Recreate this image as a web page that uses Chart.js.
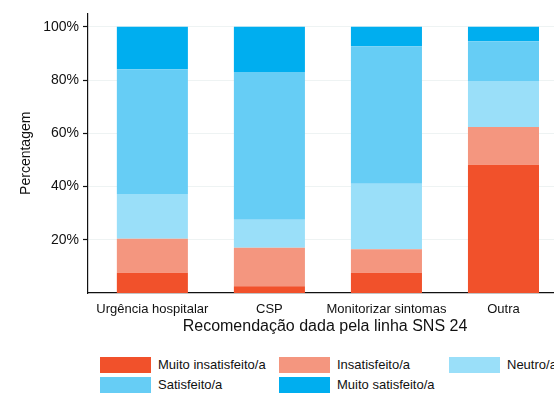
<!DOCTYPE html>
<html>
<head>
<meta charset="utf-8">
<script src="https://cdn.jsdelivr.net/npm/chart.js@4"></script>
<style>
  html, body { margin: 0; padding: 0; background: #fff; }
  body { width: 554px; height: 394px; overflow: hidden; position: relative; font-family: "Liberation Sans", Arial, sans-serif; }
  #wrap { position: absolute; left: 0; top: 0; }
  .lg-box { position: absolute; width: 51px; height: 16px; }
  .lg-txt { position: absolute; font-size: 13px; color: #111; line-height: 16px; white-space: nowrap; }
</style>
</head>
<body>
<div id="wrap"><canvas id="chartCanvas" width="562" height="340"></canvas></div>
<div id="legend"></div>
<script>
const categories = ['Urgência hospitalar', 'CSP', 'Monitorizar sintomas', 'Outra'];
const seriesNames = ['Muito insatisfeito/a', 'Insatisfeito/a', 'Neutro/a', 'Satisfeito/a', 'Muito satisfeito/a'];
const muitoInsatisfeito = [7.6, 2.5, 7.6, 48.2];
const insatisfeito = [12.8, 14.5, 8.8, 14.2];
const neutro = [16.8, 10.5, 24.6, 17.2];
const satisfeito = [46.9, 55.5, 51.7, 15.0];
const muitoSatisfeito = [15.9, 17.0, 7.3, 5.4];
const yTicks = [20, 40, 60, 80, 100];
const colors = ['#F1512B', '#F4967F', '#9ADFF9', '#66CDF5', '#00AEEF'];

const seriesValues = [muitoInsatisfeito, insatisfeito, neutro, satisfeito, muitoSatisfeito];

document.addEventListener('DOMContentLoaded', () => {
    const ctx = document.getElementById('chartCanvas').getContext('2d');
    new Chart(ctx, {
        type: 'bar',
        data: {
            datasets: seriesValues.map((vals, i) => ({
                label: seriesNames[i],
                data: vals.map((v, j) => ({ x: j, y: v })),
                backgroundColor: colors[i],
                borderWidth: 0,
                categoryPercentage: 1,
                barPercentage: 0.607
            }))
        },
        options: {
            responsive: false,
            animation: false,
            layout: { padding: { top: 13.5, left: 0, right: 0, bottom: 0 } },
            plugins: {
                legend: { display: false },
                tooltip: { enabled: false }
            },
            scales: {
                x: {
                    type: 'linear',
                    stacked: true,
                    min: -0.55,
                    max: 3.5,
                    offset: false,
                    afterBuildTicks: (scale) => { scale.ticks = categories.map((c, i) => ({ value: i })); },
                    afterFit: (scale) => { scale.height = 47; },
                    grid: { display: false, drawTicks: false },
                    border: { display: true, color: '#111', width: 1.2 },
                    ticks: {
                        callback: (v) => categories[v],
                        padding: 9,
                        color: '#111',
                        font: { family: 'Liberation Sans', size: 13 },
                        maxRotation: 0,
                        autoSkip: false
                    },
                    title: {
                        display: true,
                        text: 'Recomendação dada pela linha SNS 24',
                        color: '#111',
                        font: { family: 'Liberation Sans', size: 16 },
                        padding: { top: 0, bottom: 4 }
                    }
                },
                y: {
                    stacked: true,
                    min: 0,
                    max: 105,
                    afterBuildTicks: (scale) => { scale.ticks = yTicks.map(v => ({ value: v })); },
                    afterFit: (scale) => { scale.width = 88; },
                    grid: { color: '#EEF3F3', lineWidth: 1, tickLength: 5, tickColor: '#111', tickWidth: 1.2 },
                    border: { display: true, color: '#111', width: 1.2 },
                    ticks: {
                        callback: (v) => v + '%',
                        padding: 4,
                        color: '#111',
                        font: { family: 'Liberation Sans', size: 14 }
                    },
                    title: {
                        display: true,
                        text: 'Percentagem',
                        color: '#111',
                        font: { family: 'Liberation Sans', size: 14 },
                        padding: { top: 18, bottom: 0 }
                    }
                }
            }
        }
    });

    // legend, two rows of three columns
    const legend = document.getElementById('legend');
    const colX = [100, 279, 449];
    const rowY = [357, 377];
    seriesNames.forEach((name, i) => {
        const c = i % 3, r = Math.floor(i / 3);
        const box = document.createElement('div');
        box.className = 'lg-box';
        box.style.left = colX[c] + 'px';
        box.style.top = rowY[r] + 'px';
        box.style.background = colors[i];
        legend.appendChild(box);
        const txt = document.createElement('div');
        txt.className = 'lg-txt';
        txt.style.left = (colX[c] + 58) + 'px';
        txt.style.top = rowY[r] + 'px';
        txt.textContent = name;
        legend.appendChild(txt);
    });
});
</script>
</body>
</html>
